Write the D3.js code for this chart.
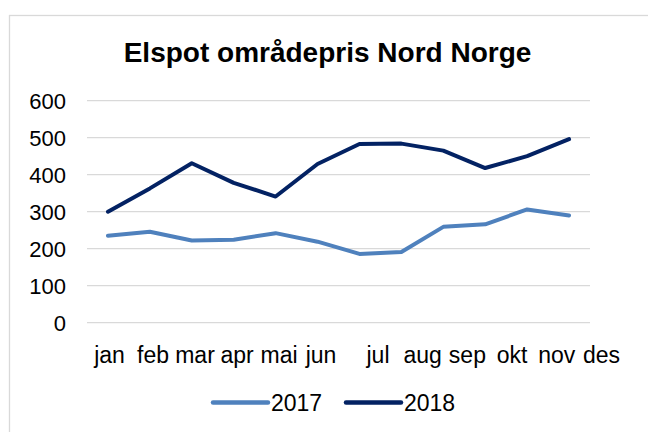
<!DOCTYPE html>
<html>
<head>
<meta charset="utf-8">
<script src="https://cdn.jsdelivr.net/npm/d3@7"></script>
<style>
  body { margin: 0; background: #fff; }
  text { font-family: "Liberation Sans", Arial, sans-serif; fill: #000; }
</style>
</head>
<body>
<svg id="draw"></svg>
<script>
// chart data
var months = ["jan", "feb", "mar", "apr", "mai", "jun", "jul", "aug", "sep", "okt", "nov", "des"];
var values2017 = [235, 246, 222, 224, 242, 219, 186, 191, 259, 266, 306, 290];
var values2018 = [300, 363, 431, 378, 341, 429, 483, 484, 465, 418, 450, 496];
var yTicks = [0, 100, 200, 300, 400, 500, 600];
var seriesNames = ["2017", "2018"];
var seriesColors = ["#4f81bd", "#032263"];

var W = 648, H = 432;
var svg = d3.select("#draw")
  .attr("width", W)
  .attr("height", H);

// chart area border
svg.append("rect")
  .attr("x", 9.5)
  .attr("y", 15.5)
  .attr("width", 700)
  .attr("height", 500)
  .attr("fill", "#fff")
  .attr("stroke", "#d9d9d9")
  .attr("stroke-width", 1.3);

var xScale = d3.scaleBand()
  .domain(months)
  .range([87, 590])
  .padding(0);

// the category labels in the picture sit unevenly and wider than the plot
var labelScale = d3.scaleLinear()
  .domain([0, 1, 5, 6, 11])
  .range([109.5, 153, 321, 378, 601.5]);

var yScale = d3.scaleLinear()
  .domain([0, 600])
  .range([322.7, 100.7]);

// gridlines
svg.selectAll(".grid")
  .data(yTicks)
  .enter().append("line")
  .attr("class", "grid")
  .attr("x1", 87)
  .attr("x2", 590)
  .attr("y1", function(d) { return yScale(d); })
  .attr("y2", function(d) { return yScale(d); })
  .attr("stroke", "#d9d9d9")
  .attr("stroke-width", 1.3);

// y labels
svg.selectAll(".ylab")
  .data(yTicks)
  .enter().append("text")
  .attr("class", "ylab")
  .attr("x", 66)
  .attr("y", function(d) { return yScale(d); })
  .attr("dy", "0.36em")
  .attr("text-anchor", "end")
  .style("font-size", "22px")
  .text(function(d) { return d; });

// x labels
svg.selectAll(".xlab")
  .data(months)
  .enter().append("text")
  .attr("class", "xlab")
  .attr("x", function(d, i) { return labelScale(i); })
  .attr("y", 363)
  .attr("text-anchor", "middle")
  .style("font-size", "23px")
  .text(function(d) { return d; });

var line = d3.line()
  .x(function(d, i) { return xScale(months[i]) + xScale.bandwidth() / 2; })
  .y(function(d) { return yScale(d); });

[values2017, values2018].forEach(function(vals, k) {
  svg.append("path")
    .datum(vals)
    .attr("d", line)
    .attr("fill", "none")
    .attr("stroke", seriesColors[k])
    .attr("stroke-width", 4)
    .attr("stroke-linejoin", "round")
    .attr("stroke-linecap", "round");
});

// title
svg.append("text")
  .attr("x", 327.5)
  .attr("y", 62)
  .attr("text-anchor", "middle")
  .style("font-size", "28px")
  .style("font-weight", "bold")
  .text("Elspot områdepris Nord Norge");

// legend
var legendX = [213, 346];
seriesNames.forEach(function(name, k) {
  svg.append("line")
    .attr("x1", legendX[k])
    .attr("x2", legendX[k] + 55)
    .attr("y1", 402.5)
    .attr("y2", 402.5)
    .attr("stroke", seriesColors[k])
    .attr("stroke-width", 4.5)
    .attr("stroke-linecap", "round");
  svg.append("text")
    .attr("x", legendX[k] + 58)
    .attr("y", 411)
    .style("font-size", "23px")
    .text(name);
});
</script>
</body>
</html>
